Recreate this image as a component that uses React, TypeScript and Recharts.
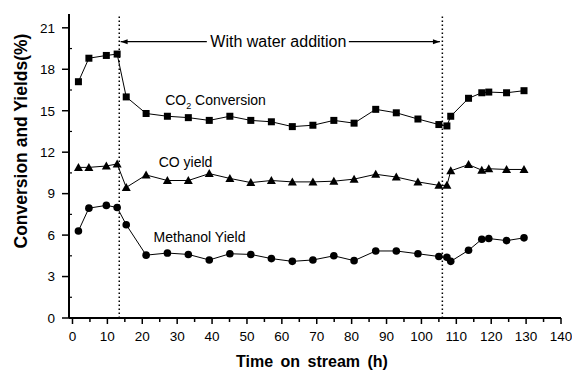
import {
  Label,
  Line,
  LineChart,
  ReferenceDot,
  ReferenceLine,
  XAxis,
  YAxis,
} from "recharts";

const hours = [
  1.7, 4.7, 9.7, 12.8, 15.4, 21.1, 27.2, 33.2, 39.2, 45.1, 51.1, 57.0, 63.0,
  68.9, 74.9, 80.7, 86.9, 92.8, 99.0, 105.0, 107.3, 108.4, 113.5, 117.3, 119.3,
  124.4, 129.4,
];
const co2Conversion = [
  17.1, 18.8, 19.0, 19.1, 16.0, 14.8, 14.6, 14.5, 14.3, 14.6, 14.3, 14.2, 13.85,
  13.95, 14.3, 14.1, 15.1, 14.85, 14.4, 14.0, 13.9, 14.6, 15.9, 16.3, 16.35,
  16.3, 16.45,
];
const coYield = [
  10.9, 10.9, 11.0, 11.15, 9.45, 10.35, 9.95, 9.95, 10.45, 10.1, 9.8, 9.95,
  9.85, 9.85, 9.9, 10.05, 10.4, 10.2, 9.85, 9.6, 9.6, 10.65, 11.1, 10.7, 10.8,
  10.75, 10.75,
];
const methanolYield = [
  6.3, 7.95, 8.15, 8.0, 6.75, 4.55, 4.7, 4.6, 4.2, 4.65, 4.6, 4.3, 4.1, 4.2,
  4.5, 4.15, 4.85, 4.85, 4.65, 4.45, 4.4, 4.1, 4.9, 5.7, 5.75, 5.6, 5.8,
];

const xTicks = [
  0, 5, 10, 15, 20, 25, 30, 35, 40, 45, 50, 55, 60, 65, 70, 75, 80, 85, 90, 95,
  100, 105, 110, 115, 120, 125, 130, 135, 140,
];
const yTicks = [
  0, 1.5, 3, 4.5, 6, 7.5, 9, 10.5, 12, 13.5, 15, 16.5, 18, 19.5, 21,
];

// water addition window and annotation spots (data coordinates)
const waterStart = 13.4;
const waterEnd = 106;
const arrowY = 20;

const data = hours.map((t, i) => ({
  t,
  co2: co2Conversion[i],
  co: coYield[i],
  meoh: methanolYield[i],
}));

const FONT = '"Liberation Sans", Arial, sans-serif';
const ink = "#000";

const BottomTick = ({ x, y, payload }: any) => {
  const major = payload.value % 10 === 0;
  return (
    <g>
      <line x1={x} x2={x} y1={y} y2={y + (major ? 6 : 4)} stroke={ink} strokeWidth={1.5} />
      {major && (
        <text x={x} y={y + 23} textAnchor="middle" fontSize={13.5} fontFamily={FONT} fill={ink}>
          {payload.value}
        </text>
      )}
    </g>
  );
};

const TopTick = ({ x, y, payload }: any) => {
  const major = payload.value % 10 === 0;
  return <line x1={x} x2={x} y1={y} y2={y + (major ? 6 : 4)} stroke={ink} strokeWidth={1.5} />;
};

const LeftTick = ({ x, y, payload }: any) => {
  const major = payload.value % 3 === 0;
  if (!major) return <line x1={x} x2={x + 3} y1={y} y2={y} stroke={ink} strokeWidth={1.2} />;
  return (
    <g>
      <line x1={x - 7} x2={x} y1={y} y2={y} stroke={ink} strokeWidth={1.5} />
      <text x={x - 14} y={y + 4.8} textAnchor="end" fontSize={13.5} fontFamily={FONT} fill={ink}>
        {payload.value}
      </text>
    </g>
  );
};

const RightTick = ({ x, y, payload }: any) => {
  const major = payload.value % 3 === 0;
  return <line x1={x} x2={x - (major ? 6 : 5)} y1={y} y2={y} stroke={ink} strokeWidth={1.5} />;
};

const square = (p: any) => (
  <rect key={`s${p.index}`} x={p.cx - 3.5} y={p.cy - 3.5} width={7} height={7} fill={ink} />
);
const triangle = (p: any) => (
  <polygon
    key={`t${p.index}`}
    points={`${p.cx},${p.cy - 4.5} ${p.cx - 4.5},${p.cy + 3.5} ${p.cx + 4.5},${p.cy + 3.5}`}
    fill={ink}
  />
);
const circle = (p: any) => <circle key={`c${p.index}`} cx={p.cx} cy={p.cy} r={3.8} fill={ink} />;

const note = (text: any, size = 14) => (p: any) => (
  <text x={p.cx} y={p.cy + size * 0.36} textAnchor="middle" fontSize={size} fontFamily={FONT} fill={ink}>
    {text}
  </text>
);

const arrowHead = (dir: number) => (p: any) => (
  <polygon
    points={`${p.cx},${p.cy} ${p.cx - dir * 7},${p.cy - 2.5} ${p.cx - dir * 7},${p.cy + 2.5}`}
    fill={ink}
  />
);

export default function App() {
  return (
    <div style={{ position: "absolute", left: 0, top: 0, background: "#fff" }}>
      <LineChart
        width={572}
        height={371}
        data={data}
        margin={{ top: 14, right: 11, bottom: 0, left: 0 }}
      >
        <XAxis
          dataKey="t"
          type="number"
          domain={[-1, 140]}
          ticks={xTicks}
          interval={0}
          allowDataOverflow
          height={53}
          tickSize={0}
          tickMargin={0}
          tickLine={false}
          tick={BottomTick}
          axisLine={{ stroke: ink, strokeWidth: 2 }}
        >
          <Label
            content={({ viewBox }: any) => (
              <text
                x={viewBox.x + viewBox.width / 2 - 3}
                y={viewBox.y + 49}
                textAnchor="middle"
                fontSize={16}
                fontWeight="bold"
                fontFamily={FONT}
                fill={ink}
                style={{ wordSpacing: 3 }}
              >
                Time on stream (h)
              </text>
            )}
          />
        </XAxis>
        <XAxis
          xAxisId="top"
          orientation="top"
          type="number"
          domain={[-1, 140]}
          ticks={xTicks}
          interval={0}
          allowDataOverflow
          height={0}
          tickSize={0}
          tickMargin={0}
          tickLine={false}
          tick={TopTick}
          axisLine={{ stroke: ink, strokeWidth: 2 }}
        />
        <YAxis
          type="number"
          domain={[0, 22]}
          ticks={yTicks}
          interval={0}
          allowDataOverflow
          width={69}
          tickSize={0}
          tickMargin={0}
          tickLine={false}
          tick={LeftTick}
          axisLine={{ stroke: ink, strokeWidth: 2 }}
        >
          <Label
            content={() => (
              <text
                transform="translate(27,141) rotate(-90)"
                textAnchor="middle"
                fontSize={17.5}
                fontWeight="bold"
                fontFamily={FONT}
                fill={ink}
              >
                Conversion and Yields(%)
              </text>
            )}
          />
        </YAxis>
        <YAxis
          yAxisId="right"
          orientation="right"
          type="number"
          domain={[0, 22]}
          ticks={yTicks}
          interval={0}
          allowDataOverflow
          width={0}
          tickSize={0}
          tickMargin={0}
          tickLine={false}
          tick={RightTick}
          axisLine={{ stroke: ink, strokeWidth: 2 }}
        />

        <ReferenceLine x={waterStart} stroke={ink} strokeWidth={1.5} strokeDasharray="1.5 2.5" />
        <ReferenceLine x={waterEnd} stroke={ink} strokeWidth={1.5} strokeDasharray="1.5 2.5" />
        <ReferenceLine
          segment={[
            { x: 13.8, y: arrowY },
            { x: 38.5, y: arrowY },
          ]}
          stroke={ink}
          strokeWidth={1.2}
        />
        <ReferenceLine
          segment={[
            { x: 79.2, y: arrowY },
            { x: 105.3, y: arrowY },
          ]}
          stroke={ink}
          strokeWidth={1.2}
        />
        <ReferenceDot x={13.8} y={arrowY} r={0} shape={arrowHead(-1)} />
        <ReferenceDot x={105.3} y={arrowY} r={0} shape={arrowHead(1)} />
        <ReferenceDot x={59.0} y={arrowY} r={0} shape={note("With water addition", 16)} />
        <ReferenceDot
          x={41.0}
          y={15.8}
          r={0}
          shape={note(
            <>
              CO
              <tspan fontSize={9} dy={4}>
                2
              </tspan>
              <tspan dy={-4}> Conversion</tspan>
            </>
          )}
        />
        <ReferenceDot x={32.4} y={11.3} r={0} shape={note("CO yield")} />
        <ReferenceDot x={36.4} y={5.87} r={0} shape={note("Methanol Yield")} />

        <Line
          dataKey="co2"
          stroke={ink}
          strokeWidth={1}
          dot={square}
          isAnimationActive={false}
        />
        <Line
          dataKey="co"
          stroke={ink}
          strokeWidth={1}
          dot={triangle}
          isAnimationActive={false}
        />
        <Line
          dataKey="meoh"
          stroke={ink}
          strokeWidth={1}
          dot={circle}
          isAnimationActive={false}
        />
      </LineChart>
    </div>
  );
}
